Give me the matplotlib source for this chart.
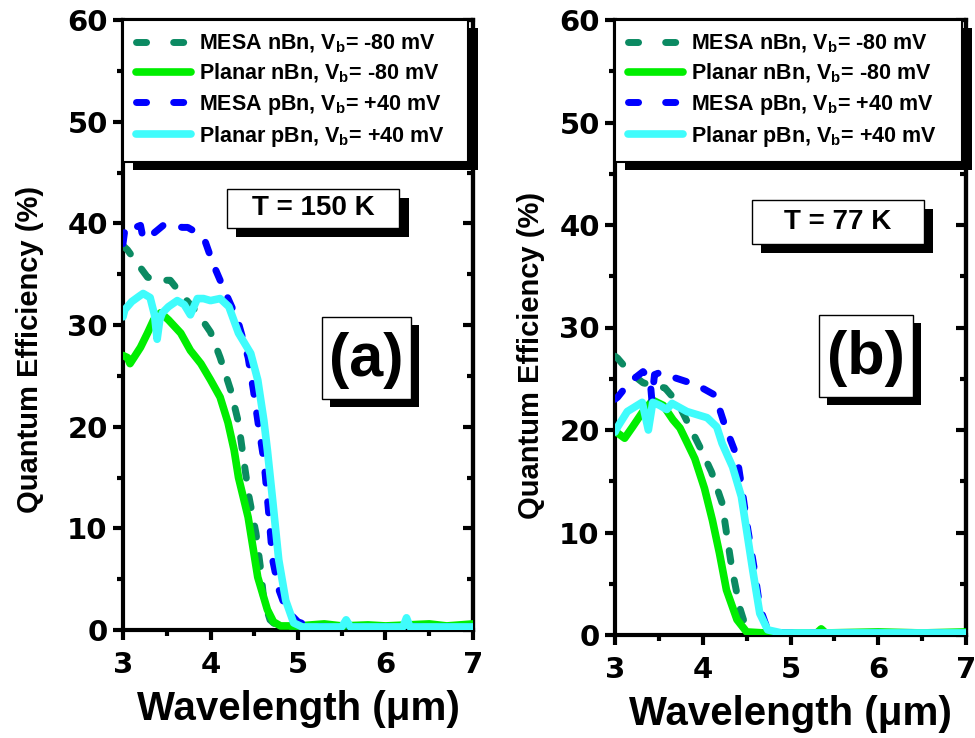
import matplotlib
matplotlib.use("Agg")
import matplotlib.pyplot as plt
from matplotlib.patches import Rectangle
from matplotlib.lines import Line2D
from matplotlib.ticker import MultipleLocator

plt.rcParams['font.family'] = ['Liberation Sans', 'DejaVu Sans']
plt.rcParams['font.weight'] = 'bold'
plt.rcParams['axes.labelweight'] = 'bold'
plt.rcParams['mathtext.fontset'] = 'custom'
plt.rcParams['mathtext.rm'] = 'Liberation Sans:bold'
plt.rcParams['mathtext.it'] = 'Liberation Sans:bold'
plt.rcParams['mathtext.bf'] = 'Liberation Sans:bold'

# ---------------- data ----------------
labels = [r'MESA nBn, V$_{\rm b}$= -80 mV', r'Planar nBn, V$_{\rm b}$= -80 mV',
          r'MESA pBn, V$_{\rm b}$= +40 mV', r'Planar pBn, V$_{\rm b}$= +40 mV']
colors = ['#0b8a62', '#00ee00', '#0000ff', '#3ffcfc']
styles = ['dash', 'solid', 'dash', 'solid']

# Panel (a) T = 150 K
a_mesa_n_x = [3.0, 3.05, 3.16, 3.28, 3.39, 3.54, 3.66, 3.85, 4.0, 4.11, 4.23, 4.32, 4.38,
              4.44, 4.52, 4.57, 4.61, 4.68, 4.77, 4.9, 5.2, 5.6, 6.0, 6.5, 7.0]
a_mesa_n_y = [37.8, 37.4, 36.1, 34.7, 34.4, 34.4, 33.1, 31.2, 29.3, 26.8, 23.6, 20.4, 16.7,
              13.1, 9.5, 6.2, 2.9, 1.0, 0.3, 0.3, 0.3, 0.3, 0.3, 0.3, 0.3]

a_plan_n_x = [3.0, 3.05, 3.08, 3.14, 3.2, 3.28, 3.35, 3.43, 3.52, 3.66, 3.77, 3.89, 4.0,
              4.11, 4.2, 4.27, 4.32, 4.43, 4.54, 4.65, 4.72, 4.8, 5.0, 5.3, 5.5, 5.8,
              6.0, 6.5, 6.7, 7.0]
a_plan_n_y = [27.0, 26.8, 26.2, 27.0, 27.8, 29.2, 30.5, 31.2, 30.5, 29.2, 27.5, 26.2, 24.6,
              22.9, 20.4, 17.7, 15.0, 11.1, 5.2, 2.0, 0.8, 0.4, 0.4, 0.6, 0.4, 0.5,
              0.4, 0.6, 0.4, 0.6]

a_mesa_p_x = [3.0, 3.02, 3.06, 3.11, 3.2, 3.23, 3.29, 3.39, 3.46, 3.54, 3.68, 3.74, 3.86,
              3.94, 4.03, 4.17, 4.31, 4.43, 4.49, 4.55, 4.61, 4.66, 4.71, 4.78, 4.84,
              4.92, 5.0, 5.1, 5.3, 5.6, 6.0, 6.5, 7.0]
a_mesa_p_y = [38.0, 39.3, 39.0, 39.5, 39.8, 38.5, 38.6, 39.3, 39.8, 39.8, 39.6, 39.6, 39.0,
              38.2, 36.0, 33.2, 30.5, 26.8, 23.6, 20.0, 16.7, 12.0, 6.9, 4.0, 2.6,
              1.5, 0.8, 0.5, 0.3, 0.3, 0.3, 0.3, 0.3]

a_plan_p_x = [3.0, 3.02, 3.1, 3.18, 3.23, 3.31, 3.36, 3.39, 3.42, 3.45, 3.52, 3.62, 3.7,
              3.77, 3.85, 3.92, 4.0, 4.11, 4.21, 4.32, 4.46, 4.54, 4.61, 4.65, 4.71,
              4.78, 4.86, 4.95, 5.05, 5.5, 5.55, 5.6, 6.2, 6.24, 6.28, 7.0]
a_plan_p_y = [30.8, 31.5, 32.3, 32.8, 33.1, 32.7, 31.0, 28.6, 30.5, 31.2, 31.8, 32.4, 32.0,
              31.0, 32.6, 32.6, 32.4, 32.6, 31.8, 29.2, 27.2, 24.6, 20.6, 17.7, 12.8,
              6.9, 2.9, 0.7, 0.3, 0.3, 1.0, 0.3, 0.3, 1.2, 0.3, 0.3]

# Panel (b) T = 77 K
b_mesa_n_x = [3.0, 3.03, 3.17, 3.32, 3.57, 3.72, 3.83, 3.97, 4.10, 4.22, 4.27, 4.33, 4.42,
              4.50, 4.6, 5.0, 5.5, 6.0, 6.5, 7.0]
b_mesa_n_y = [27.2, 27.0, 25.6, 24.6, 24.1, 22.6, 20.7, 18.3, 15.9, 12.9, 10.0, 6.6, 2.7,
              0.5, 0.2, 0.2, 0.2, 0.2, 0.2, 0.2]

b_plan_n_x = [3.0, 3.03, 3.11, 3.2, 3.31, 3.43, 3.55, 3.66, 3.74, 3.82, 3.91, 4.02, 4.11,
              4.19, 4.27, 4.39, 4.5, 4.7, 5.3, 5.35, 5.4, 6.0, 6.5, 7.0]
b_plan_n_y = [19.8, 19.7, 19.2, 20.3, 21.7, 22.9, 22.4, 21.0, 20.2, 18.8, 17.2, 14.3, 11.2,
              8.0, 4.4, 1.5, 0.3, 0.2, 0.2, 0.6, 0.2, 0.3, 0.2, 0.3]

b_mesa_p_x = [3.0, 3.03, 3.17, 3.32, 3.40, 3.42, 3.45, 3.51, 3.68, 3.93, 4.14, 4.25, 4.39,
              4.45, 4.51, 4.59, 4.65, 4.74, 4.9, 5.5, 6.0, 6.5, 7.0]
b_mesa_p_y = [23.0, 23.2, 24.7, 25.7, 24.9, 22.9, 25.4, 25.6, 25.1, 24.4, 23.4, 20.5, 17.4,
              14.1, 10.5, 6.3, 2.7, 0.5, 0.2, 0.2, 0.2, 0.2, 0.2]

b_plan_p_x = [3.0, 3.03, 3.14, 3.31, 3.38, 3.43, 3.51, 3.59, 3.65, 3.82, 4.05, 4.16, 4.22,
              4.34, 4.44, 4.5, 4.57, 4.65, 4.74, 4.9, 5.5, 6.0, 6.5, 7.0]
b_plan_p_y = [19.8, 20.3, 21.8, 22.7, 20.0, 22.7, 22.4, 22.0, 22.6, 21.8, 21.2, 20.3, 18.7,
              16.4, 13.5, 10.2, 6.3, 2.1, 0.5, 0.2, 0.2, 0.2, 0.2, 0.2]

panel_a = [(a_mesa_n_x, a_mesa_n_y), (a_plan_n_x, a_plan_n_y),
           (a_mesa_p_x, a_mesa_p_y), (a_plan_p_x, a_plan_p_y)]
panel_b = [(b_mesa_n_x, b_mesa_n_y), (b_plan_n_x, b_plan_n_y),
           (b_mesa_p_x, b_mesa_p_y), (b_plan_p_x, b_plan_p_y)]

temps = ['T = 150 K', 'T = 77 K']
tags = ['(a)', '(b)']
x_ticks = [3, 4, 5, 6, 7]
y_ticks = [0, 10, 20, 30, 40, 50, 60]

# ---------------- figure ----------------
W, H = 975, 738
fig = plt.figure(figsize=(W / 100, H / 100), dpi=100)
ax_a = fig.add_axes([123 / W, 1 - 630 / H, 350 / W, 610 / H])
ax_b = fig.add_axes([615 / W, 1 - 635 / H, 351 / W, 615 / H])

# boxes in axes fractions: (x0, x1, y_bottom, y_top)
tbox = [(0.297, 0.790, 0.659, 0.723), (0.390, 0.880, 0.636, 0.707)]
lbox = [(0.569, 0.823, 0.379, 0.513), (0.581, 0.849, 0.387, 0.520)]
leg_w = [0.985, 0.989]
ylab_xy = [(-0.225, 0.46), (-0.20, 0.455)]
tick_font = dict(family='DejaVu Sans', weight='bold', size=21)


def shadow_box(ax, x0, x1, y0, y1, off_px=8, z=6):
    bb = ax.get_window_extent()
    dx = off_px / bb.width
    dy = off_px / bb.height
    ax.add_patch(Rectangle((x0 + dx, y0 - dy), x1 - x0, y1 - y0, transform=ax.transAxes,
                           facecolor='black', edgecolor='none', zorder=z))
    ax.add_patch(Rectangle((x0, y0), x1 - x0, y1 - y0, transform=ax.transAxes,
                           facecolor='white', edgecolor='black', linewidth=1.0, zorder=z + 0.1))


legends = []
for i, (ax, data) in enumerate([(ax_a, panel_a), (ax_b, panel_b)]):
    handles = []
    for (xs, ys), c, st, lab in zip(data, colors, styles, labels):
        if st == 'dash':
            ax.plot(xs, ys, color=c, lw=5, linestyle=(0, (1.6, 2.7)),
                    dash_capstyle='round', solid_capstyle='round', zorder=3)
            handles.append(Line2D([], [], color=c, lw=5, linestyle=(0, (1.45, 3.9)),
                                  dash_capstyle='round', label=lab))
        else:
            ax.plot(xs, ys, color=c, lw=5.5, solid_capstyle='round',
                    solid_joinstyle='round', zorder=3)
            handles.append(Line2D([], [], color=c, lw=5.5, solid_capstyle='round', label=lab))
    ax.set_xlim(3, 7)
    ax.set_ylim(0, 60)
    ax.set_xticks(x_ticks)
    ax.set_yticks(y_ticks)
    ax.set_xticklabels([str(v) for v in x_ticks], fontdict=tick_font)
    ax.set_yticklabels([str(v) for v in y_ticks], fontdict=tick_font)
    ax.xaxis.set_minor_locator(MultipleLocator(0.5))
    ax.yaxis.set_minor_locator(MultipleLocator(5))
    ax.tick_params(which='major', direction='out', width=3, length=7)
    ax.tick_params(axis='x', which='major', pad=8)
    ax.tick_params(axis='y', which='major', pad=4)
    ax.tick_params(which='minor', direction='out', width=3, length=4)
    for sp in ax.spines.values():
        sp.set_linewidth(3)
    sec = ax.secondary_yaxis('right')
    sec.set_yticks(y_ticks)
    sec.yaxis.set_minor_locator(MultipleLocator(5))
    sec.tick_params(which='major', direction='in', width=3, length=7, labelright=False)
    sec.tick_params(which='minor', direction='in', width=3, length=4)
    sec.spines['right'].set_linewidth(3)
    ax.set_xlabel('Wavelength (μm)', fontsize=29, fontweight='bold', labelpad=8)
    ax.set_ylabel('Quantum Efficiency (%)', fontsize=21, fontweight='bold')
    ax.yaxis.set_label_coords(*ylab_xy[i])

    leg = ax.legend(handles=handles, loc='upper left', bbox_to_anchor=(0, 0.5, leg_w[i], 0.5),
                    mode='expand', borderaxespad=0, fontsize=15.5, handlelength=2.55,
                    handletextpad=0.4, borderpad=0.6, labelspacing=0.33, fancybox=False,
                    framealpha=1, edgecolor='black')
    leg.get_frame().set_linewidth(1.5)
    leg.set_zorder(10)
    legends.append(leg)

    x0, x1, y0, y1 = tbox[i]
    shadow_box(ax, x0, x1, y0, y1, off_px=9)
    ax.text((x0 + x1) / 2, (y0 + y1) / 2, temps[i], transform=ax.transAxes,
            ha='center', va='center', fontsize=20, fontweight='bold', zorder=7)
    x0, x1, y0, y1 = lbox[i]
    shadow_box(ax, x0, x1, y0, y1, off_px=8)
    ax.text((x0 + x1) / 2, (y0 + y1) / 2 - 0.004, tags[i], transform=ax.transAxes,
            ha='center', va='center', fontsize=44, fontweight='bold', zorder=7)

# legend shadows
fig.canvas.draw()
for ax, leg in zip([ax_a, ax_b], legends):
    bb = leg.get_window_extent().transformed(ax.transAxes.inverted())
    axbb = ax.get_window_extent()
    dx = 10 / axbb.width
    dy = 8 / axbb.height
    ax.add_patch(Rectangle((bb.x0 + dx, bb.y0 - dy), bb.width, bb.height,
                           transform=ax.transAxes, facecolor='black', edgecolor='none',
                           zorder=9, clip_on=False))

fig.savefig('out.png', dpi=100, facecolor='white')
